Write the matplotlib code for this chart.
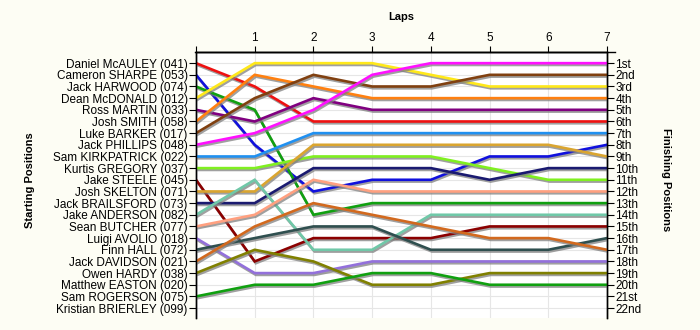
import matplotlib
matplotlib.use('Agg')
import matplotlib.pyplot as plt
import matplotlib.patheffects as pe

plt.rcParams['font.family'] = ['Liberation Sans', 'DejaVu Sans']

# drivers in starting order (row 1..22)
drivers = ['Daniel McAULEY (041)', 'Cameron SHARPE (053)', 'Jack HARWOOD (074)',
           'Dean McDONALD (012)', 'Ross MARTIN (033)', 'Josh SMITH (058)',
           'Luke BARKER (017)', 'Jack PHILLIPS (048)', 'Sam KIRKPATRICK (022)',
           'Kurtis GREGORY (037)', 'Jake STEELE (045)', 'Josh SKELTON (071)',
           'Jack BRAILSFORD (073)', 'Jake ANDERSON (082)', 'Sean BUTCHER (077)',
           'Luigi AVOLIO (018)', 'Finn HALL (072)', 'Jack DAVIDSON (021)',
           'Owen HARDY (038)', 'Matthew EASTON (020)', 'Sam ROGERSON (075)',
           'Kristian BRIERLEY (099)']

laps = [0, 1, 2, 3, 4, 5, 6, 7]

# position per lap (start + laps 1..7); drivers missing here have no line
positions = {
    'Daniel McAULEY (041)':  [1, 3, 6, 6, 6, 6, 6, 6],
    'Cameron SHARPE (053)':  [2, 8, 12, 11, 11, 9, 9, 8],
    'Jack HARWOOD (074)':    [3, 5, 14, 13, 13, 13, 13, 13],
    'Dean McDONALD (012)':   [4, 1, 1, 1, 2, 3, 3, 3],
    'Ross MARTIN (033)':     [5, 6, 4, 5, 5, 5, 5, 5],
    'Josh SMITH (058)':      [6, 2, 3, 4, 4, 4, 4, 4],
    'Luke BARKER (017)':     [7, 4, 2, 3, 3, 2, 2, 2],
    'Jack PHILLIPS (048)':   [8, 7, 5, 2, 1, 1, 1, 1],
    'Sam KIRKPATRICK (022)': [9, 9, 7, 7, 7, 7, 7, 7],
    'Kurtis GREGORY (037)':  [10, 10, 9, 9, 9, 10, 11, 11],
    'Jake STEELE (045)':     [11, 18, 16, 16, 16, 15, 15, 15],
    'Josh SKELTON (071)':    [12, 12, 8, 8, 8, 8, 8, 9],
    'Jack BRAILSFORD (073)': [13, 13, 10, 10, 10, 11, 10, 10],
    'Jake ANDERSON (082)':   [14, 11, 17, 17, 14, 14, 14, 14],
    'Sean BUTCHER (077)':    [15, 14, 11, 12, 12, 12, 12, 12],
    'Luigi AVOLIO (018)':    [16, 19, 19, 18, 18, 18, 18, 18],
    'Finn HALL (072)':       [17, 16, 15, 15, 17, 17, 17, 16],
    'Jack DAVIDSON (021)':   [18, 15, 13, 14, 15, 16, 16, 17],
    'Owen HARDY (038)':      [19, 17, 18, 20, 20, 19, 19, 19],
    'Sam ROGERSON (075)':    [21, 20, 20, 19, 19, 20, 20, 20],
}

colors = {
    'Daniel McAULEY (041)': '#ee1111', 'Cameron SHARPE (053)': '#1010dd',
    'Jack HARWOOD (074)': '#10a010', 'Dean McDONALD (012)': '#ffe81a',
    'Ross MARTIN (033)': '#800080', 'Josh SMITH (058)': '#ff8010',
    'Luke BARKER (017)': '#804010', 'Jack PHILLIPS (048)': '#ff10ff',
    'Sam KIRKPATRICK (022)': '#2090f0', 'Kurtis GREGORY (037)': '#80f020',
    'Jake STEELE (045)': '#8b0000', 'Josh SKELTON (071)': '#daa530',
    'Jack BRAILSFORD (073)': '#1a1a70', 'Jake ANDERSON (082)': '#70c8a8',
    'Sean BUTCHER (077)': '#ffa080', 'Luigi AVOLIO (018)': '#9370db',
    'Finn HALL (072)': '#2f4f4f', 'Jack DAVIDSON (021)': '#d2691e',
    'Owen HARDY (038)': '#808000', 'Sam ROGERSON (075)': '#10a010',
}

finish_labels = ['1st', '2nd', '3rd'] + ['%dth' % i for i in range(4, 21)] + ['21st', '22nd']

bg = '#fdfdf4'
fig = plt.figure(figsize=(7, 3.3), dpi=100, facecolor=bg)
ax = fig.add_axes([196/700, 1-318/330, (607-196)/700, (318-51.5)/330])
ax.set_facecolor('white')

shadow = [pe.SimpleLineShadow(offset=(0.8, -1.3), shadow_color='#808080', alpha=0.75), pe.Normal()]
for name in drivers:
    if name not in positions:
        continue
    ax.plot(laps, positions[name], color=colors[name], lw=1.9, zorder=3,
            path_effects=shadow, solid_joinstyle='miter')

ax.set_xlim(0, 7)
ax.set_ylim(22.85, 0)
ax.grid(True, color='#e6e6e6', lw=0.8, zorder=0)

ax.xaxis.tick_top()
ax.set_xticks(laps)
ax.set_xticklabels([''] + [str(l) for l in laps[1:]], fontsize=8.5)
ax.tick_params(axis='x', direction='out', length=4, pad=1.5)

ax.set_yticks(range(1, 23))
ax.set_yticklabels(drivers, fontsize=8.5)
ax.tick_params(axis='y', direction='out', length=5, pad=1)

ax2 = ax.twinx()
ax2.set_ylim(22.85, 0)
ax2.set_yticks(range(1, 23))
ax2.set_yticklabels(finish_labels, fontsize=8.5)
ax2.tick_params(axis='y', direction='out', length=5, pad=1)

for a in (ax, ax2):
    a.spines['bottom'].set_visible(False)
    for s in ('top', 'left', 'right'):
        a.spines[s].set_linewidth(1.0)
ax.plot([-0.02, 7.14], [0, 0], color='black', lw=1.0, clip_on=False, zorder=5)

fig.text(401/700, 1-17/330, 'Laps', ha='center', va='center', fontsize=8, fontweight='bold')
fig.text(30/700, 1-180/330, 'Starting Positions', ha='center', va='center',
         rotation=90, fontsize=8, fontweight='bold')
fig.text(666/700, 1-180/330, 'Finishing Positions', ha='center', va='center',
         rotation=-90, fontsize=8, fontweight='bold')

fig.savefig('out.png', dpi=100, facecolor=bg)
